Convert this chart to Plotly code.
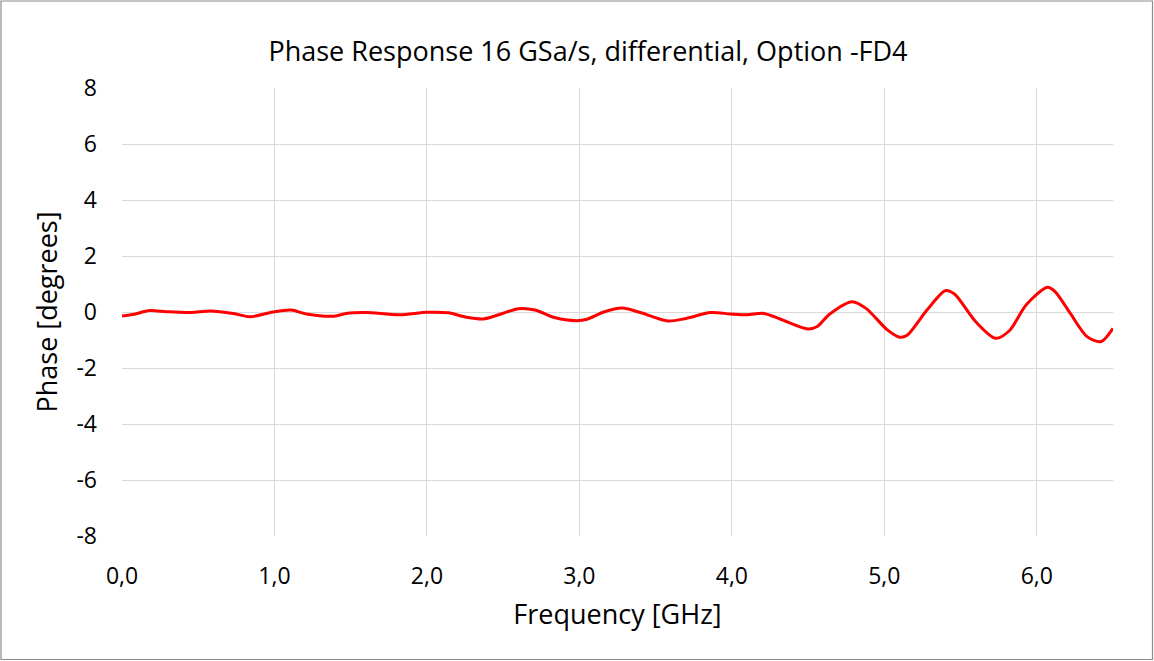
import plotly.graph_objects as go

freq_ghz = [0.00, 0.08, 0.18, 0.29, 0.45, 0.58, 0.73, 0.84, 0.99, 1.11, 1.21, 1.39, 1.47, 1.60,
            1.82, 2.00, 2.14, 2.26, 2.37, 2.47, 2.60, 2.71, 2.83, 2.98, 3.05, 3.16, 3.28,
            3.40, 3.58, 3.70, 3.86, 3.99, 4.10, 4.21, 4.32, 4.50, 4.56, 4.64, 4.79, 4.88,
            5.02, 5.10, 5.15, 5.28, 5.40, 5.46, 5.60, 5.73, 5.82, 5.93, 6.07, 6.12, 6.22,
            6.33, 6.42, 6.50]
phase_deg = [-0.14, -0.08, 0.05, 0.01, -0.02, 0.04, -0.05, -0.17, 0.00, 0.07, -0.07, -0.15, -0.05, -0.02,
             -0.10, -0.01, -0.03, -0.19, -0.25, -0.10, 0.12, 0.07, -0.19, -0.31, -0.26, 0.00, 0.14,
             -0.02, -0.32, -0.23, -0.02, -0.07, -0.10, -0.05, -0.26, -0.61, -0.52, -0.08, 0.37, 0.13,
             -0.64, -0.90, -0.83, 0.07, 0.76, 0.64, -0.35, -0.94, -0.67, 0.25, 0.88, 0.73, -0.05,
             -0.88, -1.06, -0.58]

x_ticks = [0, 1, 2, 3, 4, 5, 6]
x_tick_labels = ["0,0", "1,0", "2,0", "3,0", "4,0", "5,0", "6,0"]
y_ticks = [-8, -6, -4, -2, 0, 2, 4, 6, 8]
y_tick_labels = ["-8", "-6", "-4", "-2", "0", "2", "4", "6", "8"]

title_text = "Phase Response 16 GSa/s, differential, Option -FD4"
x_title = "Frequency [GHz]"
y_title = "Phase [degrees]"

FONT = "Open Sans"

fig = go.Figure()
fig.add_trace(go.Scatter(
    x=freq_ghz, y=phase_deg, mode="lines",
    line=dict(color="#FF0000", width=3, shape="spline", smoothing=0.8),
    showlegend=False, hoverinfo="skip",
))

L, R, T, B = 122, 41, 88, 125
W, H = 1154, 661
pw, ph = W - L - R, H - T - B

fig.update_layout(
    width=W, height=H,
    margin=dict(l=L, r=R, t=T, b=B, pad=0),
    paper_bgcolor="white", plot_bgcolor="white",
    font=dict(family=FONT, color="#000000", size=23),
    title=dict(text=title_text, x=588 / W, xref="container",
               xanchor="center", y=1 - 52 / H, yref="container", yanchor="middle",
               font=dict(size=27, family=FONT, color="#000000")),
    xaxis=dict(
        range=[0, 6.5], tickvals=x_ticks, ticktext=x_tick_labels,
        showgrid=True, gridcolor="#D9D9D9", gridwidth=1.3,
        zeroline=False, showline=False, ticks="",
        tickfont=dict(size=23, family=FONT),
        ticklabelstandoff=24,
        title=dict(text=x_title, font=dict(size=27, family=FONT), standoff=15),
    ),
    yaxis=dict(
        range=[-8, 8], tickvals=y_ticks, ticktext=y_tick_labels,
        showgrid=True, gridcolor="#D9D9D9", gridwidth=1.3,
        zeroline=False, showline=False, ticks="",
        tickfont=dict(size=23, family=FONT),
        ticklabelstandoff=24,
        title=dict(text=y_title, font=dict(size=27, family=FONT), standoff=10),
    ),
    shapes=[dict(
        type="rect", xref="paper", yref="paper",
        x0=-(L - 1) / pw, x1=1 + (R - 1.5) / pw,
        y0=-(B - 1.5) / ph, y1=1 + (T - 1) / ph,
        line=dict(color="#8C8C8C", width=1.2), fillcolor="rgba(0,0,0,0)", layer="below",
    )],
)

fig.write_html("out.html", config={"displayModeBar": False},
               post_script="document.body.style.margin='0';document.body.style.overflow='hidden';")
